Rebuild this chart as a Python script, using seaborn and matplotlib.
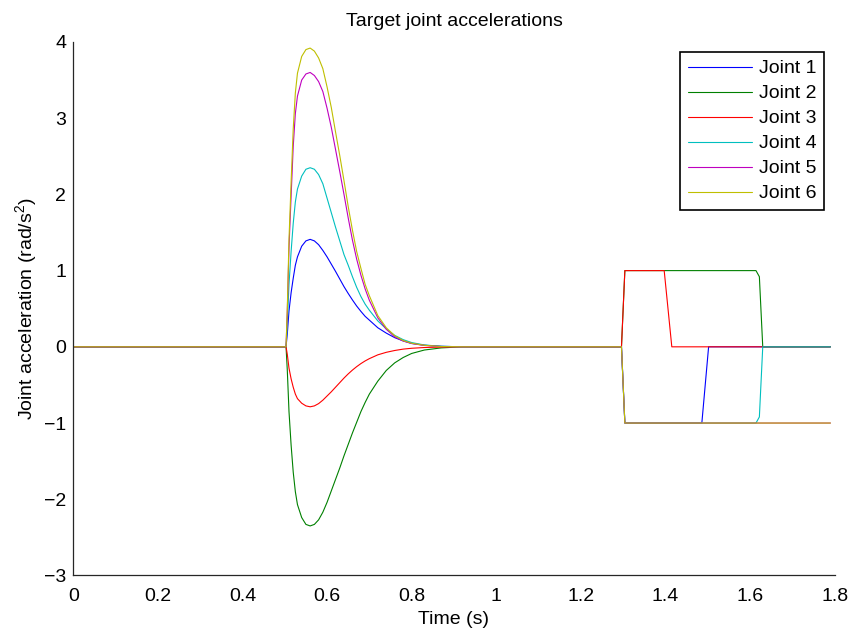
import pandas as pd
import seaborn as sns
import matplotlib
matplotlib.use("Agg")
import matplotlib.pyplot as plt

# Labels and colours (MATLAB default line colours)
JOINTS = ["Joint 1", "Joint 2", "Joint 3", "Joint 4", "Joint 5", "Joint 6"]
COLORS = ["#0000ff", "#008000", "#ff0000", "#00bfbf", "#bf00bf", "#bfbf00"]

# Time samples of the acceleration bump (s)
BUMP_T = [0.503, 0.506, 0.51, 0.515, 0.52, 0.525, 0.53, 0.54, 0.55, 0.56,
          0.57, 0.58, 0.59, 0.60, 0.61, 0.62, 0.63, 0.64, 0.65, 0.66,
          0.67, 0.68, 0.69, 0.70, 0.72, 0.74, 0.76, 0.78, 0.80, 0.83,
          0.87, 0.92]

# Bump values (rad/s^2)
J1_BUMP = [0, 0.17, 0.47, 0.71, 0.90, 1.07, 1.18, 1.32, 1.39, 1.41,
           1.39, 1.34, 1.265, 1.18, 1.085, 0.99, 0.89, 0.79, 0.70, 0.615,
           0.535, 0.465, 0.40, 0.35, 0.25, 0.18, 0.12, 0.078, 0.045, 0.021,
           0.007, 0]
J2_BUMP = [0, -0.31, -0.85, -1.29, -1.645, -1.90, -2.07, -2.24, -2.33, -2.35,
           -2.33, -2.27, -2.17, -2.04, -1.89, -1.74, -1.59, -1.43, -1.28, -1.13,
           -0.99, -0.85, -0.73, -0.62, -0.45, -0.31, -0.21, -0.14, -0.087, -0.042,
           -0.014, 0]
J3_BUMP = [0, -0.10, -0.28, -0.42, -0.53, -0.62, -0.68, -0.74, -0.775, -0.787,
           -0.775, -0.745, -0.70, -0.645, -0.59, -0.53, -0.47, -0.41, -0.355, -0.305,
           -0.26, -0.22, -0.185, -0.155, -0.105, -0.072, -0.048, -0.03, -0.019, -0.009,
           -0.003, 0]
J4_BUMP = [0, 0.31, 0.82, 1.25, 1.62, 1.90, 2.07, 2.24, 2.33, 2.35,
           2.33, 2.26, 2.14, 1.95, 1.76, 1.57, 1.39, 1.21, 1.07, 0.92,
           0.78, 0.66, 0.56, 0.48, 0.34, 0.235, 0.15, 0.094, 0.056, 0.024,
           0.007, 0]
J5_BUMP = [0, 0.47, 1.30, 1.98, 2.63, 3.06, 3.29, 3.50, 3.58, 3.60,
           3.56, 3.48, 3.35, 3.13, 2.88, 2.59, 2.30, 2.00, 1.69, 1.40,
           1.15, 0.94, 0.76, 0.61, 0.38, 0.23, 0.13, 0.076, 0.043, 0.018,
           0.004, 0]
J6_BUMP = [0, 0.51, 1.41, 2.16, 2.86, 3.33, 3.59, 3.81, 3.90, 3.92,
           3.88, 3.79, 3.65, 3.41, 3.14, 2.82, 2.51, 2.18, 1.84, 1.53,
           1.25, 1.03, 0.82, 0.67, 0.41, 0.25, 0.145, 0.082, 0.047, 0.02,
           0.004, 0]

# Step section (time, value) per joint
J1_STEP_T = [1.296, 1.304, 1.486, 1.502, 1.79]
J1_STEP_V = [0, -1, -1, 0, 0]
J2_STEP_T = [1.296, 1.304, 1.614, 1.622, 1.630, 1.79]
J2_STEP_V = [0, 1, 1, 0.92, 0, 0]
J3_STEP_T = [1.296, 1.304, 1.397, 1.415, 1.79]
J3_STEP_V = [0, 1, 1, 0, 0]
J4_STEP_T = [1.296, 1.304, 1.614, 1.622, 1.630, 1.79]
J4_STEP_V = [0, -1, -1, -0.92, 0, 0]
J5_STEP_T = [1.296, 1.304, 1.79]
J5_STEP_V = [0, -1, -1]
J6_STEP_T = [1.296, 1.304, 1.79]
J6_STEP_V = [0, -1, -1]

bumps = [J1_BUMP, J2_BUMP, J3_BUMP, J4_BUMP, J5_BUMP, J6_BUMP]
step_ts = [J1_STEP_T, J2_STEP_T, J3_STEP_T, J4_STEP_T, J5_STEP_T, J6_STEP_T]
step_vs = [J1_STEP_V, J2_STEP_V, J3_STEP_V, J4_STEP_V, J5_STEP_V, J6_STEP_V]

frames = []
for name, bump, st, sv in zip(JOINTS, bumps, step_ts, step_vs):
    t = [0.0] + BUMP_T + st
    v = [0.0] + bump + sv
    frames.append(pd.DataFrame({"t": t, "acc": v, "joint": name}))
df = pd.concat(frames, ignore_index=True)

sns.set_style("white")
plt.rcParams["font.family"] = ["Liberation Sans", "DejaVu Sans"]
plt.rcParams["mathtext.fontset"] = "custom"
plt.rcParams["mathtext.rm"] = "Liberation Sans"
plt.rcParams["mathtext.it"] = "Liberation Sans:italic"
plt.rcParams["text.color"] = "black"
plt.rcParams["axes.labelcolor"] = "black"

fig = plt.figure(figsize=(8.51, 6.31), dpi=100)
ax = fig.add_axes([0.0861, 0.088, 0.8947, 0.8455])

sns.lineplot(data=df, x="t", y="acc", hue="joint", hue_order=JOINTS,
             palette=COLORS, estimator=None, sort=False, linewidth=0.8,
             legend=False, ax=ax)

ax.set_xlim(0, 1.8)
ax.set_ylim(-3, 4)
ax.set_xticks([0, 0.2, 0.4, 0.6, 0.8, 1, 1.2, 1.4, 1.6, 1.8])
ax.set_xticklabels(["0", "0.2", "0.4", "0.6", "0.8", "1", "1.2", "1.4", "1.6", "1.8"])
ax.set_yticks(range(-3, 5))

for side in ["top", "right"]:
    ax.spines[side].set_visible(False)
for side in ["left", "bottom"]:
    ax.spines[side].set_color("#262626")
    ax.spines[side].set_linewidth(0.9)

ax.tick_params(axis="both", direction="in", length=5, width=0.9,
               colors="#262626", labelcolor="black", labelsize=14)
ax.tick_params(axis="x", pad=9)
ax.tick_params(axis="y", pad=5)

ax.set_title("Target joint accelerations", fontsize=14, pad=11.5, color="black")
ax.set_xlabel("Time (s)", fontsize=14, labelpad=4)
ax.set_ylabel("Joint acceleration (rad/s$^2$)", fontsize=14, labelpad=4)

leg = ax.legend(ax.lines[:6], JOINTS, loc="upper right",
                bbox_to_anchor=(0.986, 0.981), borderaxespad=0,
                frameon=True, fancybox=False, framealpha=1,
                edgecolor="black", fontsize=14, handlelength=3.3,
                handletextpad=0.35, labelspacing=0.38, borderpad=0.4,
                labelcolor="black")
leg.get_frame().set_linewidth(1.2)

fig.savefig("out.png", dpi=100)
